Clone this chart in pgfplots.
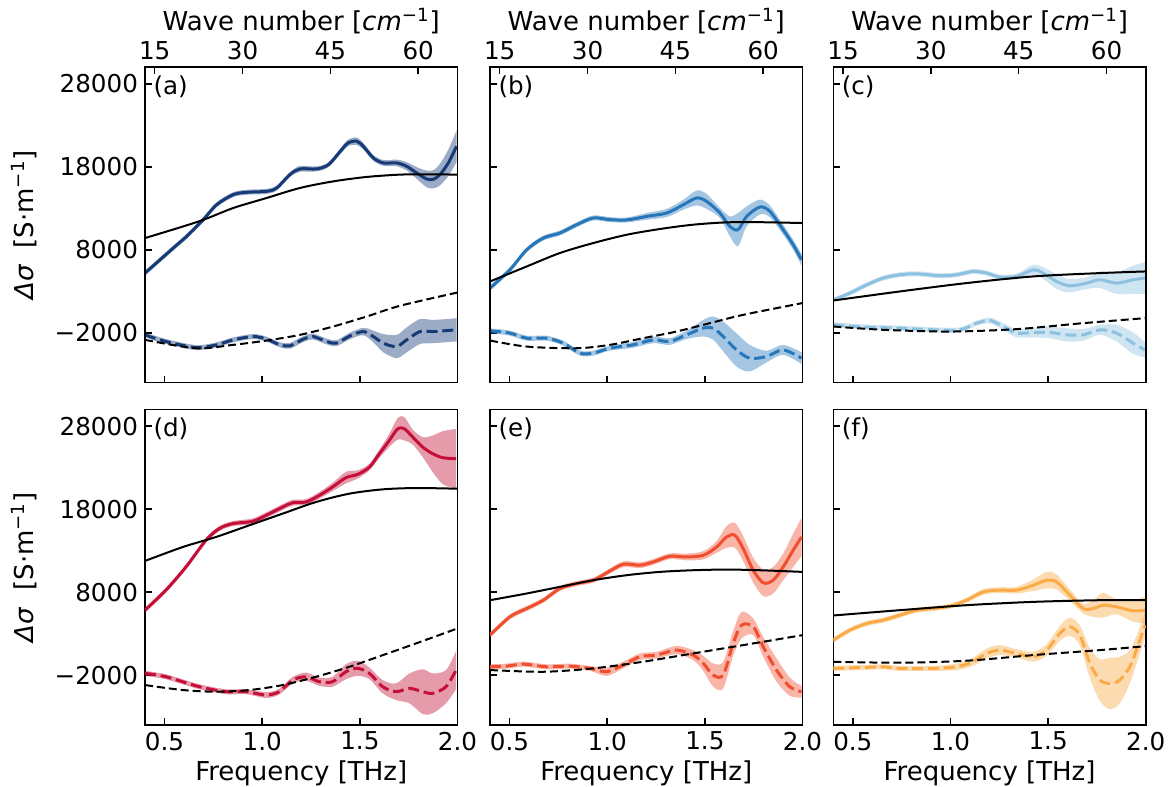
\documentclass[border=0pt]{standalone}
\usepackage{fontspec}
\setmainfont{DejaVu Sans}
\usepackage{pgfplots}
\pgfplotsset{compat=1.18}
\usepackage{pgfplotstable}
\usepgfplotslibrary{fillbetween}

\definecolor{cA}{RGB}{22,58,118}
\definecolor{cB}{RGB}{38,118,186}
\definecolor{cC}{RGB}{140,193,224}
\definecolor{cD}{RGB}{196,16,56}
\definecolor{cE}{RGB}{240,78,46}
\definecolor{cF}{RGB}{250,170,70}

% ---------- panel (a)
\pgfplotstableread{
f v e
0.40 5200 300
0.545 8220 300
0.613 9620 300
0.698 11630 300
0.767 13440 300
0.852 14650 300
0.92 14930 300
1.023 15050 300
1.074 15450 300
1.142 17060 300
1.193 17750 350
1.28 17750 300
1.34 18270 300
1.40 19870 350
1.44 20880 400
1.484 21080 450
1.518 20470 400
1.569 19070 350
1.62 18470 350
1.688 18470 400
1.74 18060 500
1.791 17260 700
1.842 16540 1000
1.876 16500 1100
1.91 17060 1300
1.953 18470 1600
1.995 20470 1900
}\aS
\pgfplotstableread{
f v e
0.40 -2240 300
0.507 -3040 300
0.661 -3770 300
0.767 -3440 300
0.852 -2840 300
0.955 -2440 300
1.023 -2760 300
1.091 -3440 300
1.142 -3560 350
1.21 -2760 350
1.26 -2440 350
1.33 -3040 350
1.38 -3240 350
1.45 -2360 400
1.518 -1840 450
1.569 -2440 700
1.62 -3240 1100
1.688 -3650 1400
1.74 -2840 1500
1.808 -1840 1500
1.876 -1840 1400
1.995 -1630 1400
}\aD
% ---------- panel (b)
\pgfplotstableread{
f v e
0.40 3390 300
0.502 5600 300
0.588 8010 300
0.673 9420 300
0.758 10030 300
0.844 11030 300
0.929 11840 300
1.014 11640 300
1.10 11600 300
1.202 12030 400
1.305 12440 500
1.39 13440 600
1.458 14250 900
1.509 13840 900
1.577 12440 600
1.628 10830 1200
1.67 10430 2000
1.714 12030 1200
1.782 13160 900
1.833 12630 700
1.901 10430 600
1.952 8620 600
1.995 6810 700
}\bS
\pgfplotstableread{
f v e
0.40 -1750 300
0.502 -2030 300
0.588 -2640 300
0.69 -2640 300
0.775 -3240 300
0.86 -4440 300
0.929 -4440 300
1.014 -3840 300
1.133 -3440 350
1.236 -2840 400
1.32 -3040 400
1.406 -2240 500
1.492 -1430 1000
1.543 -1430 1400
1.594 -2440 1800
1.662 -4050 2000
1.73 -5050 1600
1.816 -4850 700
1.901 -4050 600
1.995 -5050 700
}\bD
% ---------- panel (c)
\pgfplotstableread{
f v e
0.40 1980 200
0.485 2790 300
0.571 3790 300
0.656 4600 300
0.741 5000 300
0.827 5120 300
0.946 4880 300
1.03 5000 300
1.116 5400 300
1.185 5200 300
1.253 4720 300
1.339 4800 350
1.424 5600 600
1.475 5200 700
1.543 4190 900
1.611 3670 800
1.697 3990 700
1.765 4400 1000
1.85 3990 1300
1.935 4400 1700
1.995 4600 1900
}\cS
\pgfplotstableread{
f v e
0.40 -1030 300
0.571 -1310 300
0.741 -1430 300
0.912 -1630 300
1.048 -1630 300
1.134 -830 300
1.202 -510 350
1.27 -1230 400
1.339 -2030 500
1.424 -1950 600
1.509 -1950 700
1.594 -2240 800
1.679 -2240 700
1.765 -1630 600
1.85 -2030 1000
1.935 -3240 1300
1.995 -4050 900
}\cD
% ---------- panel (d)
\pgfplotstableread{
f v e
0.40 5830 300
0.507 8240 300
0.61 11040 300
0.712 14250 300
0.78 15650 300
0.849 16250 300
0.951 16530 350
1.02 17250 350
1.105 18250 350
1.157 18780 350
1.225 18860 350
1.293 19660 400
1.36 20660 500
1.429 21790 700
1.489 22180 500
1.549 23060 400
1.60 24670 500
1.651 26270 800
1.694 27680 1300
1.728 27680 1400
1.771 26670 900
1.822 25470 1200
1.873 24670 2200
1.925 24190 3200
1.993 24070 3600
}\dS
\pgfplotstableread{
f v e
0.40 -1780 300
0.507 -2190 300
0.678 -3390 300
0.814 -3990 300
0.917 -3990 300
1.02 -4390 350
1.087 -3990 350
1.157 -2590 400
1.225 -2190 500
1.293 -2790 500
1.36 -2790 600
1.429 -1580 900
1.489 -1180 900
1.549 -1780 700
1.617 -3390 800
1.685 -3990 1000
1.754 -3590 1800
1.822 -3990 2700
1.873 -4190 2400
1.941 -3390 2000
1.993 -1380 2300
}\dD
% ---------- panel (e)
\pgfplotstableread{
f v e
0.40 2820 300
0.502 5030 300
0.588 6030 300
0.673 7030 300
0.758 8440 300
0.844 9040 300
0.929 9440 300
0.997 10320 300
1.082 11360 350
1.167 11240 350
1.236 11640 350
1.32 12320 350
1.406 12240 400
1.492 12440 500
1.56 13440 700
1.611 14640 1300
1.654 14850 1500
1.696 13250 1500
1.748 10640 1500
1.799 9120 1600
1.85 9440 1600
1.901 11040 1600
1.952 13040 2000
1.995 14640 2300
}\eS
\pgfplotstableread{
f v e
0.40 -990 300
0.485 -910 300
0.571 -670 300
0.69 -990 300
0.809 -910 300
0.912 -1180 300
0.997 -1590 500
1.082 -780 400
1.167 220 400
1.253 420 400
1.355 1020 500
1.44 420 600
1.492 -580 900
1.543 -1990 1400
1.594 -1990 1600
1.645 1820 1500
1.688 4030 1600
1.748 3830 1000
1.799 1420 1200
1.867 -1380 1400
1.935 -3390 1100
1.995 -4000 700
}\eD
% ---------- panel (f)
\pgfplotstableread{
f v e
0.40 2220 300
0.485 3420 300
0.571 4230 300
0.656 4630 300
0.741 5230 300
0.827 5830 300
0.912 6030 300
0.997 6310 300
1.082 7030 300
1.168 8030 350
1.253 8240 350
1.339 8240 400
1.424 8840 700
1.492 9440 1000
1.543 9240 900
1.611 7640 700
1.679 6030 600
1.731 6030 1000
1.782 6430 1500
1.85 6230 900
1.935 5750 1300
1.995 5830 1600
}\fS
\pgfplotstableread{
f v e
0.40 -1180 300
0.571 -1060 300
0.656 -990 300
0.741 -1180 300
0.912 -1180 300
1.031 -990 400
1.116 -380 500
1.185 620 600
1.253 1020 600
1.339 620 500
1.424 220 600
1.492 1020 700
1.56 3030 900
1.611 3830 1100
1.662 2820 1200
1.714 -580 1800
1.765 -2590 2500
1.816 -2990 3100
1.867 -2590 2800
1.918 -990 2000
1.952 1020 1700
1.995 4000 1500
}\fD

\newcommand{\series}[4]{%
  \addplot[name path=U#3, draw=none, smooth] table[x=f, y expr=\thisrow{v}+\thisrow{e}]{#1};
  \addplot[name path=L#3, draw=none, smooth] table[x=f, y expr=\thisrow{v}-\thisrow{e}]{#1};
  \addplot[fill=#2, fill opacity=0.42, draw=none] fill between[of=U#3 and L#3];
  \addplot[#2, line width=1.5pt, smooth, line join=round, #4] table[x=f, y=v]{#1};
}

\tikzset{
  plab/.style={anchor=north west, inner sep=0pt, font=\fontsize{12.3}{14}\selectfont},
  cold/.style={dash pattern=on 5.5pt off 2.4pt},
  blk/.style={black, line width=1pt, smooth},
  blkd/.style={black, line width=1pt, smooth, dash pattern=on 4pt off 2pt},
}

\pgfplotsset{
  panel/.style={
    scale only axis, width=156.25pt, height=157.75pt, anchor=south west,
    xmin=0.4, xmax=2.0, ymin=-8000, ymax=30000,
    xtick={0.5,1.0,1.5,2.0}, ytick={-2000,8000,18000,28000},
    scaled y ticks=false, scaled x ticks=false,
    xtick pos=left, ytick pos=left, tick align=inside,
    major tick length=3.5pt,
    tick style={black, line width=0.75pt},
    axis line style={line width=0.75pt},
    xticklabels={}, yticklabels={},
    ticklabel style={font=\fontsize{12.3}{14}\selectfont},
    label style={font=\fontsize{13}{15}\selectfont},
  },
  bottomrow/.style={xticklabels={0.5,1.0,1.5,2.0}, xlabel={Frequency [THz]},
    xlabel style={yshift=2pt}},
  leftcol/.style={yticklabels={−2000,8000,18000,28000},
    ylabel={\textit{Δσ}\ \ [S·m\textsuperscript{−1}]},
    ylabel style={yshift=2pt}},
  topaxis/.style={
    scale only axis, width=156.25pt, height=157.75pt, anchor=south west,
    xmin=0.4, xmax=2.0, ymin=0, ymax=1,
    scaled y ticks=false, scaled x ticks=false,
    xtick pos=right, xticklabel pos=right, ytick=\empty,
    axis line style={line width=0.75pt},
    xtick={0.4497,0.8994,1.3491,1.7988}, xticklabels={15,30,45,60},
    tick align=inside, major tick length=3.5pt,
    tick style={black, line width=0.75pt},
    ticklabel style={font=\fontsize{12.3}{14}\selectfont},
    label style={font=\fontsize{13}{15}\selectfont},
    xlabel={Wave number [\textit{cm}\textsuperscript{−1}]},
    xlabel style={yshift=-3pt},
  },
}

\begin{document}
\begin{tikzpicture}

% ===== (a)
\begin{axis}[panel, leftcol, at={(72.5pt,202.15pt)}]
\series{\aS}{cA}{s}{solid}
\series{\aD}{cA}{d}{cold}
\addplot[blk] coordinates {(0.4,9420) (0.676,11430) (0.852,13040) (1.023,14250) (1.193,15450) (1.364,16250) (1.535,16780) (1.705,17060) (1.85,17100) (2.0,17060)};
\addplot[blkd] coordinates {(0.4,-2840) (0.661,-3850) (0.852,-3440) (1.023,-2920) (1.193,-2240) (1.364,-1230) (1.535,-30) (1.705,1260) (2.0,2860)};
\node[plab] at (rel axis cs:0.026,0.975) {(a)};
\end{axis}
\begin{axis}[topaxis, at={(72.5pt,202.15pt)}]
\addplot[draw=none] coordinates {(0.5,0.5) (1.5,0.5)};
\end{axis}

% ===== (b)
\begin{axis}[panel, at={(245pt,202.15pt)}]
\series{\bS}{cB}{s}{solid}
\series{\bD}{cB}{d}{cold}
\addplot[blk] coordinates {(0.4,4190) (0.588,6000) (0.758,7620) (0.929,8820) (1.10,9820) (1.27,10510) (1.44,11030) (1.611,11310) (1.782,11330) (2.0,11230)};
\addplot[blkd] coordinates {(0.4,-2920) (0.588,-3650) (0.844,-3850) (1.014,-3440) (1.184,-2640) (1.355,-1840) (1.526,-830) (1.696,170) (2.0,1590)};
\node[plab] at (rel axis cs:0.026,0.975) {(b)};
\end{axis}
\begin{axis}[topaxis, at={(245pt,202.15pt)}]
\addplot[draw=none] coordinates {(0.5,0.5) (1.5,0.5)};
\end{axis}

% ===== (c)
\begin{axis}[panel, at={(416.65pt,202.15pt)}]
\series{\cS}{cC}{s}{solid}
\series{\cD}{cC}{d}{cold}
\addplot[blk] coordinates {(0.4,1900) (0.741,2990) (1.083,4000) (1.424,4800) (1.765,5200) (2.0,5400)};
\addplot[blkd] coordinates {(0.4,-1230) (0.656,-1630) (0.997,-1840) (1.339,-1550) (1.679,-830) (2.0,-220)};
\node[plab] at (rel axis cs:0.026,0.975) {(c)};
\end{axis}
\begin{axis}[topaxis, at={(416.65pt,202.15pt)}]
\addplot[draw=none] coordinates {(0.5,0.5) (1.5,0.5)};
\end{axis}

% ===== (d)
\begin{axis}[panel, leftcol, bottomrow, at={(72.5pt,31pt)}]
\series{\dS}{cD}{s}{solid}
\series{\dD}{cD}{d}{cold}
\addplot[blk] coordinates {(0.4,11760) (0.594,13440) (0.763,14640) (0.934,16050) (1.105,17460) (1.276,18860) (1.446,19860) (1.617,20380) (1.787,20540) (2.0,20460)};
\addplot[blkd] coordinates {(0.4,-3190) (0.594,-3790) (0.763,-3990) (0.934,-3790) (1.105,-3190) (1.276,-2190) (1.446,-990) (1.617,410) (1.787,1820) (2.0,3630)};
\node[plab] at (rel axis cs:0.026,0.975) {(d)};
\end{axis}

% ===== (e)
\begin{axis}[panel, bottomrow, at={(245pt,31pt)}]
\series{\eS}{cE}{s}{solid}
\series{\eD}{cE}{d}{cold}
\addplot[blk] coordinates {(0.4,7030) (0.588,7840) (0.758,8640) (0.929,9440) (1.099,10040) (1.27,10440) (1.44,10640) (1.611,10720) (1.782,10640) (2.0,10440)};
\addplot[blkd] coordinates {(0.4,-1380) (0.673,-1590) (0.929,-1180) (1.184,-380) (1.44,620) (1.696,1620) (2.0,2820)};
\node[plab] at (rel axis cs:0.026,0.975) {(e)};
\end{axis}

% ===== (f)
\begin{axis}[panel, bottomrow, at={(416.65pt,31pt)}]
\series{\fS}{cF}{s}{solid}
\series{\fD}{cF}{d}{cold}
\addplot[blk] coordinates {(0.4,5190) (0.741,5830) (1.082,6430) (1.424,6830) (1.765,7030) (2.0,7030)};
\addplot[blkd] coordinates {(0.4,-380) (0.741,-500) (1.082,-260) (1.424,420) (1.765,1020) (2.0,1500)};
\node[plab] at (rel axis cs:0.026,0.975) {(f)};
\end{axis}

\pgfresetboundingbox
\useasboundingbox (0pt,0pt) rectangle (584.5pt,393.5pt);
\end{tikzpicture}
\end{document}
